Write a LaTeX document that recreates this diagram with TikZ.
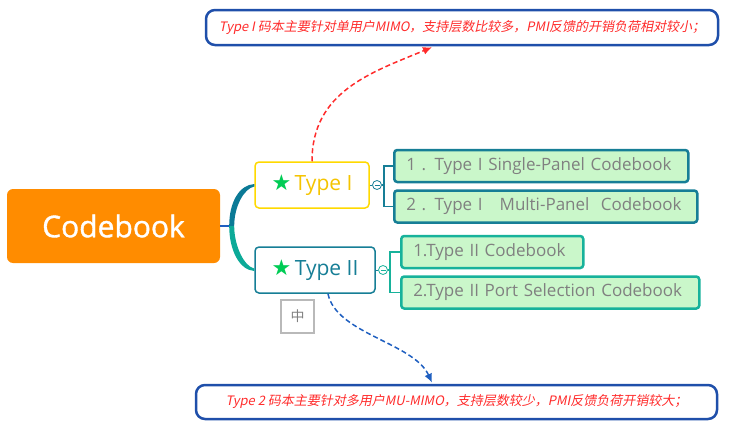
\documentclass[tikz,border=0pt]{standalone}
\usepackage{fontspec}
\setmainfont{Open Sans}
\newfontfamily\rootfont[FakeBold=1.2]{Open Sans}
\newfontfamily\cjkfont[FakeSlant=0.2]{Noto Sans CJK SC}
\newfontfamily\cjkplain{Noto Sans CJK SC}
\newfontfamily\symfont{DejaVu Sans}
\usepackage{tikz}
\usetikzlibrary{arrows.meta,positioning,calc}

\definecolor{cbOrange}{HTML}{FF8C00}
\definecolor{cbYellow}{HTML}{FFD900}
\definecolor{cbYellowT}{HTML}{F5C400}
\definecolor{cbTealD}{HTML}{167E96}
\definecolor{cbTealL}{HTML}{17B29B}
\definecolor{cbForkI}{HTML}{0B7A96}
\definecolor{cbForkII}{HTML}{0CAA98}
\definecolor{cbLeaf}{HTML}{CAF7CA}
\definecolor{cbGray}{HTML}{808080}
\definecolor{cbGreen}{HTML}{00CC55}
\definecolor{cbBlue}{HTML}{1F4FAA}
\definecolor{cbRed}{HTML}{FF2B2B}
\definecolor{cbBlueA}{HTML}{1F5FC0}

\begin{document}
\begin{tikzpicture}[x=1pt, y=-1pt,
  cbroot/.style={fill=cbOrange, rounded corners=6pt, text=white, font=\rootfont\fontsize{30}{34}\selectfont, minimum width=213pt, minimum height=74pt, inner sep=0pt},
  cbtype/.style={draw, fill=white, line width=1.5pt, rounded corners=4pt, font=\fontsize{21}{24}\selectfont, minimum height=46pt, inner sep=0pt},
  cbleaf/.style={draw, fill=cbLeaf, line width=2.5pt, rounded corners=3pt, text=cbGray, font=\fontsize{17}{20}\selectfont, text width=#1, align=left, inner xsep=12pt, inner ysep=0pt, minimum height=32pt, text height=12.5pt, text depth=4pt},
  cbnote/.style={draw=cbBlue, line width=2.5pt, rounded corners=9pt, text=cbRed, font=\cjkfont\fontsize{13}{15}\selectfont, inner sep=0pt},
  cbdot/.style={circle, draw=#1, fill=white, line width=0.8pt, minimum size=9pt, inner sep=0pt,
    path picture={\draw[#1, line width=0.6pt] ([xshift=-2.5pt]path picture bounding box.center) -- ([xshift=2.5pt]path picture bounding box.center);}},
  cbbr/.style={line width=1.5pt},
  cbarr/.style={-{Latex[length=9pt,width=8pt]}, line width=1.5pt, dash pattern=on 5pt off 3pt}
]
\useasboundingbox (0,0) rectangle (729,431);

% root and the two types
\node[cbroot] (root) at (113.5,226) {Codebook};
\node[cbtype, draw=cbYellow, text=cbYellowT, minimum width=114pt] (t1) at (312,185) {{\symfont\fontsize{22}{24}\selectfont\textcolor{cbGreen}{★}}\,Type I};
\node[cbtype, draw=cbTealD, text=cbTealD, minimum width=120pt] (t2) at (315,270) {{\symfont\fontsize{22}{24}\selectfont\textcolor{cbGreen}{★}}\,Type II};

% fork
\coordinate (fk) at ([xshift=10pt]root.east);
\draw[cbBlueA, line width=1.5pt] (root.east) -- (fk);
\fill[cbForkI] ([xshift=-1pt]fk) .. controls +(0,-24) and +(-15,1) .. ([yshift=1pt]t1.west)
  -- ([yshift=-1.5pt]t1.west) .. controls +(-10,2) and +(0,-20) .. ([xshift=4pt]fk) -- cycle;
\fill[cbForkII] ([xshift=-1pt]fk) .. controls +(0,24) and +(-15,-1) .. ([yshift=-1pt]t2.west)
  -- ([yshift=1.5pt]t2.west) .. controls +(-10,-2) and +(0,20) .. ([xshift=4pt]fk) -- cycle;

% leaves of Type I
\node[cbleaf=270pt, draw=cbTealD, anchor=west] (a1) at (393,166) {1 . Type I Single-Panel Codebook};
\node[cbleaf=279pt, draw=cbTealD, below=6pt of a1.south west, anchor=north west] (a2) {2 . Type I \ \ Multi-Panel \ Codebook};
\node[cbdot=cbTealD] (d1) at (377,185) {};
\coordinate[left=9pt of a1.west] (k1);
\draw[cbTealD, line width=1pt] (t1.east) -- (d1.west);
\draw[cbbr, cbTealD] (d1.east) -- (d1.east -| k1);
\draw[cbbr, cbTealD] (a1.west) -| (k1 |- a2.west) -- (a2.west);

% leaves of Type II
\node[cbleaf=158pt, draw=cbTealL, anchor=west] (b1) at (400,252) {1.Type II Codebook};
\node[cbleaf=274pt, draw=cbTealL, below=6pt of b1.south west, anchor=north west] (b2) {2.Type II Port Selection Codebook};
\node[cbdot=cbTealL] (d2) at (383,270) {};
\coordinate[left=10pt of b1.west] (k2);
\draw[cbTealD, line width=1pt] (t2.east) -- (d2.west);
\draw[cbbr, cbTealL] (d2.east) -- (d2.east -| k2);
\draw[cbbr, cbTealL] (b1.west) -| (k2 |- b2.west) -- (b2.west);

% notes
\node[cbnote, minimum width=512pt, minimum height=35pt] (n1) at (462,27.5) {Type I 码本主要针对单用户MIMO，支持层数比较多，PMI反馈的开销负荷相对较小；};
\node[cbnote, minimum width=521pt, minimum height=34pt] (n2) at (456.5,402) {Type 2 码本主要针对多用户MU-MIMO，支持层数较少，PMI反馈负荷开销较大；};
\node[draw=gray!55, line width=1.5pt, text=gray, font=\cjkplain\fontsize{14}{16}\selectfont, minimum size=33pt, inner sep=0pt] (zh) at (297.5,316.5) {中};

\draw[cbarr, cbRed] (t1.north) .. controls +(0,-70) and +(-60,25) .. ([xshift=-30pt,yshift=-1pt]n1.south);
\draw[cbarr, cbBlueA] ([xshift=13pt]t2.south) .. controls +(8,40) and +(-18,-40) .. ([xshift=-24.5pt,yshift=1pt]n2.north);
\end{tikzpicture}
\end{document}
